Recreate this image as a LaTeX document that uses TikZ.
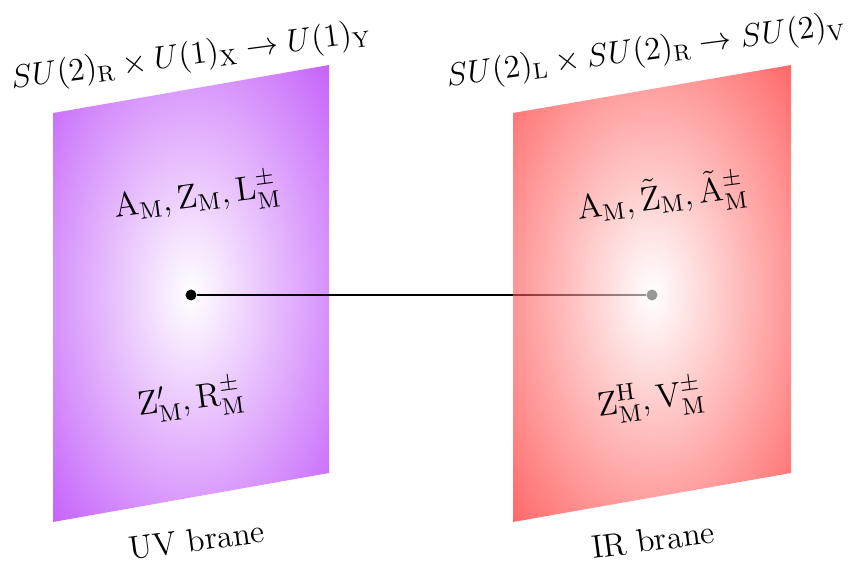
\RequirePackage{fix-cm}
\documentclass[tikz,border=0pt]{standalone}
\usepackage{amsmath}
\definecolor{uvcol}{RGB}{196,96,250}
\pgfdeclareradialshading{uvshade}{\pgfpoint{0bp}{0bp}}{color(0bp)=(white); color(36bp)=(uvcol); color(50bp)=(uvcol)}
\pgfdeclareradialshading{irshade}{\pgfpoint{0bp}{0bp}}{color(0bp)=(white); color(36bp)=(red); color(50bp)=(red)}
\tikzset{
  px/.style={x=0.4pt,y=-0.4pt},
  toplab/.style={font=\fontsize{12.9}{15}\selectfont,rotate=7.5,inner sep=1pt},
  lab/.style={font=\fontsize{13}{15}\selectfont,rotate=7.5,inner sep=1pt},
  inlab/.style={font=\fontsize{13.6}{16}\selectfont,rotate=7.5,inner sep=1pt},
  dotc/.style={circle,fill=black,inner sep=0pt,minimum size=4.4pt}
}
\begin{document}
\begin{tikzpicture}[px]
\useasboundingbox (0,0) rectangle (849,566);
% UV brane
\shade[shading=uvshade] (53,113) -- (329,65) -- (329,473) -- (53,522) -- cycle;
\node[dotc] (uv) at (191,295) {};
\node[dotc] (ir) at (652,295) {};
\draw[line width=0.8pt] (uv) -- (ir);
% IR brane
\shade[shading=irshade,fill opacity=0.6,opacity=0.6] (513,113) -- (791,65) -- (791,473) -- (513,522) -- cycle;
% labels
\node[toplab] (tl) at (191,57) {$SU(2)_{\rm R}\times U(1)_{\rm X}\to U(1)_{\rm Y}$};
\node[toplab] (tr) at (646,52) {$SU(2)_{\rm L}\times SU(2)_{\rm R}\to SU(2)_{\rm V}$};
\node[inlab] (uvt) at (197,198) {$\rm A_M, Z_M, L^\pm_M$};
\node[inlab] (irt) at (662,198) {$\rm A_M, \tilde{Z}_M, \tilde{A}^\pm_M$};
\node[inlab] (uvb) at (191,400) {$\rm Z'_M, R^\pm_M$};
\node[inlab] (irb) at (651,400) {$\rm Z^H_M, V^\pm_M$};
\node[lab] (uvn) at (197,540) {UV brane};
\node[lab] (irn) at (653,540) {IR brane};
\end{tikzpicture}
\end{document}
